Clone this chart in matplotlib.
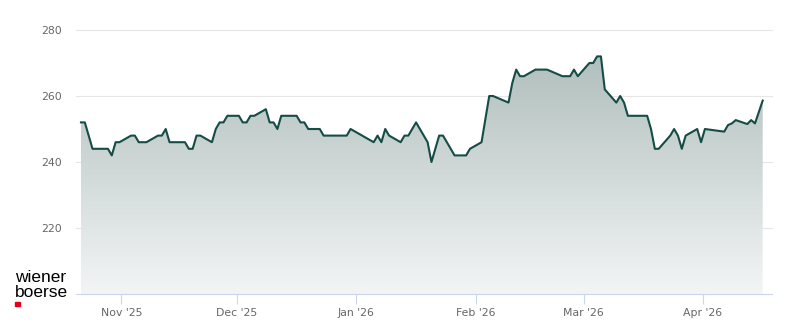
import matplotlib
matplotlib.use("Agg")
import matplotlib.pyplot as plt
import matplotlib.dates as mdates
import numpy as np
import pandas as pd
from matplotlib.colors import LinearSegmentedColormap
from matplotlib.patches import Polygon, Rectangle

# closing prices
DATES = [
    "2025-10-21", "2025-10-22", "2025-10-24", "2025-10-27", "2025-10-28", "2025-10-29",
    "2025-10-30", "2025-10-31", "2025-11-03", "2025-11-04", "2025-11-05", "2025-11-06",
    "2025-11-07", "2025-11-10", "2025-11-11", "2025-11-12", "2025-11-13", "2025-11-14",
    "2025-11-17", "2025-11-18", "2025-11-19", "2025-11-20", "2025-11-21", "2025-11-24",
    "2025-11-25", "2025-11-26", "2025-11-27", "2025-11-28", "2025-12-01", "2025-12-02",
    "2025-12-03", "2025-12-04", "2025-12-05", "2025-12-08", "2025-12-09", "2025-12-10",
    "2025-12-11", "2025-12-12", "2025-12-15", "2025-12-16", "2025-12-17", "2025-12-18",
    "2025-12-19", "2025-12-22", "2025-12-23", "2025-12-29", "2025-12-30", "2026-01-05",
    "2026-01-06", "2026-01-07", "2026-01-08", "2026-01-09", "2026-01-12", "2026-01-13",
    "2026-01-14", "2026-01-15", "2026-01-16", "2026-01-19", "2026-01-20", "2026-01-22",
    "2026-01-23", "2026-01-26", "2026-01-29", "2026-01-30", "2026-02-02", "2026-02-04",
    "2026-02-05", "2026-02-09", "2026-02-10", "2026-02-11", "2026-02-12", "2026-02-13",
    "2026-02-16", "2026-02-19", "2026-02-23", "2026-02-25", "2026-02-26", "2026-02-27",
    "2026-03-02", "2026-03-03", "2026-03-04", "2026-03-05", "2026-03-06", "2026-03-09",
    "2026-03-10", "2026-03-11", "2026-03-12", "2026-03-13", "2026-03-16", "2026-03-17",
    "2026-03-18", "2026-03-19", "2026-03-20", "2026-03-23", "2026-03-24", "2026-03-25",
    "2026-03-26", "2026-03-27", "2026-03-30", "2026-03-31", "2026-04-01", "2026-04-06",
    "2026-04-07", "2026-04-08", "2026-04-09", "2026-04-12", "2026-04-13", "2026-04-14",
    "2026-04-16",
]
PRICES = [
    252, 252, 244, 244, 244, 242,
    246, 246, 248, 248, 246, 246,
    246, 248, 248, 250, 246, 246,
    246, 244, 244, 248, 248, 246,
    250, 252, 252, 254, 254, 252,
    252, 254, 254, 256, 252, 252,
    250, 254, 254, 254, 252, 252,
    250, 250, 248, 248, 250, 246,
    248, 246, 250, 248, 246, 248,
    248, 250, 252, 246, 240, 248,
    248, 242, 242, 244, 246, 260,
    260, 258, 264, 268, 266, 266,
    268, 268, 266, 266, 268, 266,
    270, 270, 272, 272, 262, 258,
    260, 258, 254, 254, 254, 254,
    250, 244, 244, 248, 250, 248,
    244, 248, 250, 246, 250, 249.2,
    251.2, 251.7, 252.7, 251.5, 252.7, 251.7,
    258.6,
]

Y_TICKS = [220, 240, 260, 280]
X_TICKS = ["2025-11-01", "2025-12-01", "2026-01-01", "2026-02-01", "2026-03-01", "2026-04-01"]
X_LABELS = ["Nov '25", "Dec '25", "Jan '26", "Feb '26", "Mar '26", "Apr '26"]
X_RANGE = ("2025-10-20 05:00", "2026-04-18 22:00")
Y_RANGE = (200, 280)

LINE_COLOR = "#154c46"
GRID_COLOR = "#e6e6e6"
AXIS_COLOR = "#ccd6eb"
LABEL_COLOR = "#666666"

df = pd.DataFrame({"date": pd.to_datetime(DATES) + pd.Timedelta(hours=12), "price": PRICES})

fig = plt.figure(figsize=(8, 3.24), dpi=100)
ax = fig.add_axes([76 / 800, 1 - 294 / 324, 696 / 800, 264 / 324])

x0, x1 = mdates.date2num(pd.to_datetime(list(X_RANGE)))
xs = mdates.date2num(df["date"])
ys = df["price"].to_numpy()

# gradient area under the line, dark at the top, fading out at the bottom
cmap = LinearSegmentedColormap.from_list("fade", ["#a9b9b7", "#f3f5f5"])
grad = np.linspace(0, 1, 256).reshape(-1, 1)
img = ax.imshow(grad, cmap=cmap, aspect="auto", extent=[x0, x1, Y_RANGE[0], Y_RANGE[1]],
                origin="upper", zorder=1)
poly = Polygon(np.column_stack([np.r_[xs[0], xs, xs[-1]], np.r_[Y_RANGE[0], ys, Y_RANGE[0]]]),
               closed=True, facecolor="none", edgecolor="none")
ax.add_patch(poly)
img.set_clip_path(poly)

ax.plot(xs, ys, color=LINE_COLOR, lw=1.5, zorder=3, solid_joinstyle="round")

ax.set_xlim(x0, x1)
ax.set_ylim(*Y_RANGE)

for v in Y_TICKS:
    ax.axhline(v, color=GRID_COLOR, lw=0.8, zorder=0, clip_on=False)

for s in ["top", "right", "left"]:
    ax.spines[s].set_visible(False)
ax.spines["bottom"].set_color(AXIS_COLOR)
ax.spines["bottom"].set_linewidth(0.8)
ax.spines["bottom"].set_zorder(4)

ax.set_yticks(Y_TICKS)
ax.set_yticklabels([str(v) for v in Y_TICKS])
ax.tick_params(axis="y", length=0, pad=10, labelsize=7.8, labelcolor=LABEL_COLOR)

ax.set_xticks(mdates.date2num(pd.to_datetime(X_TICKS)))
ax.set_xticklabels(X_LABELS)
ax.tick_params(axis="x", length=7.2, width=0.8, color=AXIS_COLOR, pad=3,
               labelsize=7.8, labelcolor=LABEL_COLOR)

# logo
fig.text(15 / 800, 1 - 282 / 324, "wiener", family="Liberation Sans", fontsize=12.5,
         color="#000000", ha="left", va="baseline")
fig.text(15 / 800, 1 - 297 / 324, "boerse", family="Liberation Sans", fontsize=12.5,
         color="#000000", ha="left", va="baseline")
fig.patches.append(Rectangle((15 / 800, 1 - 306 / 324), 4.5 / 800, 4.5 / 324,
                             transform=fig.transFigure, color="#e2001a"))

fig.savefig("out.png", dpi=100)
